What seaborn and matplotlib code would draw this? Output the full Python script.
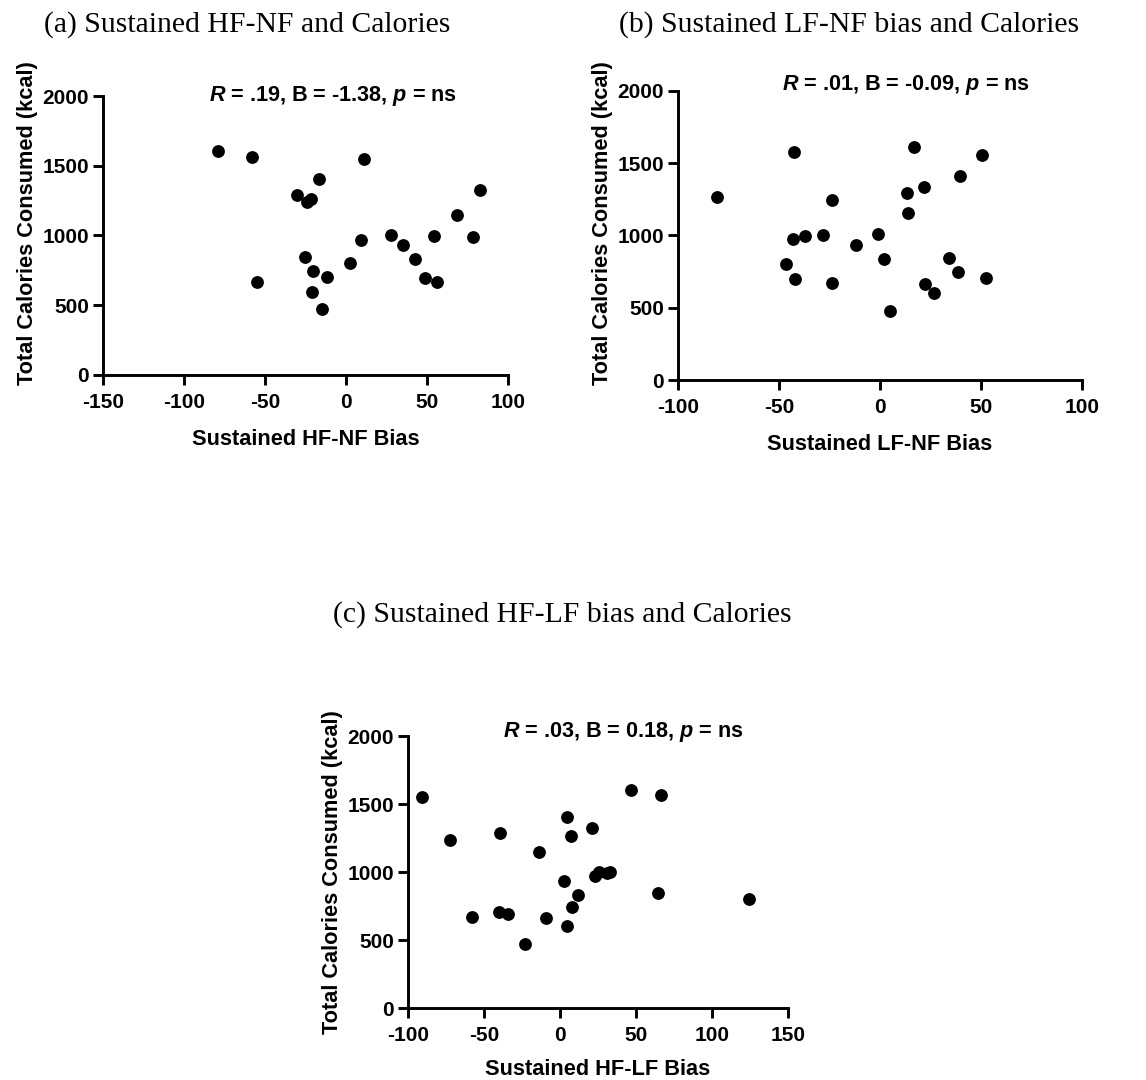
import matplotlib
matplotlib.use("Agg")
import matplotlib.pyplot as plt
import seaborn as sns
import pandas as pd

# ---- data ----
calories_a = [1604, 1564, 1550, 1407, 1290, 1264, 1240, 1328, 1149, 1001, 999, 987,
              970, 932, 830, 844, 801, 744, 703, 694, 668, 663, 598, 472]
hf_nf_bias = [-78.9, -58.0, 11.2, -16.9, -30.0, -21.8, -24.1, 82.7, 68.8, 27.8, 54.3, 78.1,
              9.3, 35.0, 42.4, -25.3, 2.4, -20.2, -11.6, 48.8, 56.4, -55.1, -21.0, -14.9]

calories_b = [1267, 1574, 1610, 1557, 1410, 1332, 1295, 1244, 1152, 975, 993, 1002,
              1007, 935, 834, 846, 804, 744, 707, 696, 673, 666, 601, 475]
lf_nf_bias = [-80.5, -42.5, 16.9, 50.4, 39.7, 21.8, 13.4, -23.6, 13.9, -43.0, -37.0, -28.4,
              -1.0, -11.7, 2.1, 34.2, -46.4, 38.8, 52.7, -42.0, -23.6, 22.3, 26.8, 4.8]

calories_c = [1554, 1239, 1290, 1606, 1567, 1408, 1327, 1266, 1151, 972, 999, 991,
              1004, 935, 832, 847, 803, 744, 705, 695, 671, 663, 602, 475]
hf_lf_bias = [-90.6, -72.2, -39.6, 46.9, 66.6, 4.4, 21.3, 7.0, -14.0, 22.8, 25.4, 30.9,
              32.9, 2.6, 11.8, 64.6, 124.0, 7.9, -40.2, -33.9, -58.0, -9.2, 4.6, -22.9]

titles = ["(a) Sustained HF-NF and Calories",
          "(b) Sustained LF-NF bias and Calories",
          "(c) Sustained HF-LF bias and Calories"]
xlabels = ["Sustained HF-NF Bias", "Sustained LF-NF Bias", "Sustained HF-LF Bias"]
ylabel = "Total Calories Consumed (kcal)"
stats = [("R", " = .19, B = -1.38, ", "p", " = ns"),
         ("R", " = .01, B = -0.09, ", "p", " = ns"),
         ("R", " = .03, B = 0.18, ", "p", " = ns")]
xticks = [[-150, -100, -50, 0, 50, 100],
          [-100, -50, 0, 50, 100],
          [-100, -50, 0, 50, 100, 150]]
yticks = [0, 500, 1000, 1500, 2000]

# ---- style ----
sns.set_style("ticks")
plt.rcParams["font.family"] = ["Liberation Sans", "DejaVu Sans"]
plt.rcParams["font.weight"] = "bold"
plt.rcParams["mathtext.fontset"] = "custom"
plt.rcParams["mathtext.it"] = "Liberation Sans:italic:bold"
plt.rcParams["mathtext.rm"] = "Liberation Sans:bold"
for k in ["text.color", "axes.labelcolor", "xtick.color", "ytick.color", "axes.edgecolor"]:
    plt.rcParams[k] = "black"

fig = plt.figure(figsize=(11.46, 10.8), dpi=100)

rects = [[0.0899, 0.6528, 0.3534, 0.2583],
         [0.5916, 0.6481, 0.3525, 0.2679],
         [0.3558, 0.0664, 0.3321, 0.2521]]
title_pos = [(0.2161, 0.977), (0.7405, 0.977), (0.491, 0.4306)]
stat_pos = [(0.568, 1.0), (0.564, 1.02), (0.567, 1.016)]
ylabel_y = [0.543, 0.542, 0.5]
xlabel_pad = [12, 12, 9.5]

datasets = [(hf_nf_bias, calories_a), (lf_nf_bias, calories_b), (hf_lf_bias, calories_c)]

for i, (xs, ys) in enumerate(datasets):
    ax = fig.add_axes(rects[i])
    df = pd.DataFrame({"x": xs, "y": ys})
    sns.scatterplot(data=df, x="x", y="y", ax=ax, color="black", s=85,
                    edgecolor="black", linewidth=0, clip_on=False, zorder=3)
    ax.set_xlim(xticks[i][0], xticks[i][-1])
    ax.set_ylim(0, 2000)
    ax.set_xticks(xticks[i])
    ax.set_yticks(yticks)
    ax.set_xticklabels([str(t) for t in xticks[i]], fontsize=15, fontweight="bold")
    ax.set_yticklabels([str(t) for t in yticks], fontsize=15, fontweight="bold")
    ax.set_xlabel(xlabels[i], fontsize=15.7, fontweight="bold", labelpad=xlabel_pad[i])
    ax.set_ylabel(ylabel, fontsize=15.7, fontweight="bold", labelpad=3)
    ax.yaxis.label.set_y(ylabel_y[i])
    for s in ["top", "right"]:
        ax.spines[s].set_visible(False)
    for s in ["left", "bottom"]:
        ax.spines[s].set_linewidth(2.1)
    ax.tick_params(axis="both", width=2.1, length=7, colors="black")
    ax.tick_params(axis="x", pad=6)
    ax.tick_params(axis="y", pad=3)
    r, mid, p, end = stats[i]
    ax.text(stat_pos[i][0], stat_pos[i][1],
            "$" + r + "$" + mid + "$" + p + "$" + end,
            transform=ax.transAxes, ha="center", va="center",
            fontsize=15.6, fontweight="bold")
    fig.text(title_pos[i][0], title_pos[i][1], titles[i], ha="center", va="center",
             fontsize=21.4, family=["Liberation Serif", "DejaVu Serif"], fontweight="normal")

fig.savefig("out.png", dpi=100, facecolor="white")
